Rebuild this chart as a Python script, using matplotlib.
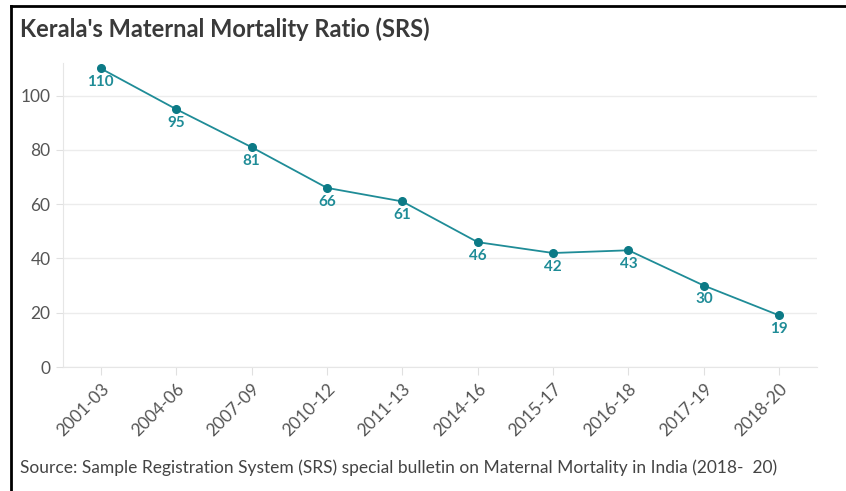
import matplotlib.pyplot as plt
from matplotlib.lines import Line2D

periods = ["2001-03", "2004-06", "2007-09", "2010-12", "2011-13",
           "2014-16", "2015-17", "2016-18", "2017-19", "2018-20"]
mmr = [110, 95, 81, 66, 61, 46, 42, 43, 30, 19]
yticks = [0, 20, 40, 60, 80, 100]

plt.rcParams['font.family'] = ['Lato', 'DejaVu Sans']

fig = plt.figure(figsize=(8.46, 4.91), dpi=100)
ax = fig.add_axes([0.0745, 0.2525, 0.8912, 0.6192])

x = list(range(len(periods)))
ax.plot(x, mmr, color="#1f8c97", lw=1.3, marker="o", ms=5.5,
        markerfacecolor="#0c7a86", markeredgecolor="#0c7a86", zorder=3)
for xi, v in zip(x, mmr):
    ax.annotate(str(v), (xi, v), xytext=(0, -15), textcoords="offset points",
                ha="center", va="bottom", fontsize=11, fontweight="bold",
                color="#1f8c97")

ax.set_xlim(-0.5, len(periods) - 0.5)
ax.set_ylim(0, 112)
ax.set_yticks(yticks)
ax.set_xticks(x)
ax.set_xticklabels(periods, rotation=45, ha="right", rotation_mode="anchor")
ax.tick_params(axis="x", colors="#e0e0e0", labelcolor="#555555", labelsize=12.5,
               length=6, pad=4)
ax.tick_params(axis="y", colors="#e0e0e0", labelcolor="#555555", labelsize=12.5,
               length=5, pad=4)
ax.grid(axis="y", color="#ececec", lw=1)
ax.set_axisbelow(True)
for s in ["top", "right"]:
    ax.spines[s].set_visible(False)
ax.spines["left"].set_color("#e6e6e6")
ax.spines["bottom"].set_color("#e6e6e6")

fig.text(0.024, 0.94, "Kerala's Maternal Mortality Ratio (SRS)", fontsize=17,
         fontweight="bold", color="#3a3a3a", va="center")
fig.text(0.024, 0.047, "Source: Sample Registration System (SRS) special bulletin on "
         "Maternal Mortality in India (2018-  20)", fontsize=12.5, color="#444444",
         va="center")

# frame lines at left and top
fig.add_artist(Line2D([0.0125, 0.0125], [0, 0.987], color="black", lw=2,
                      transform=fig.transFigure))
fig.add_artist(Line2D([0.0125, 1], [0.987, 0.987], color="black", lw=2,
                      transform=fig.transFigure))

fig.savefig("out.png", dpi=100)
